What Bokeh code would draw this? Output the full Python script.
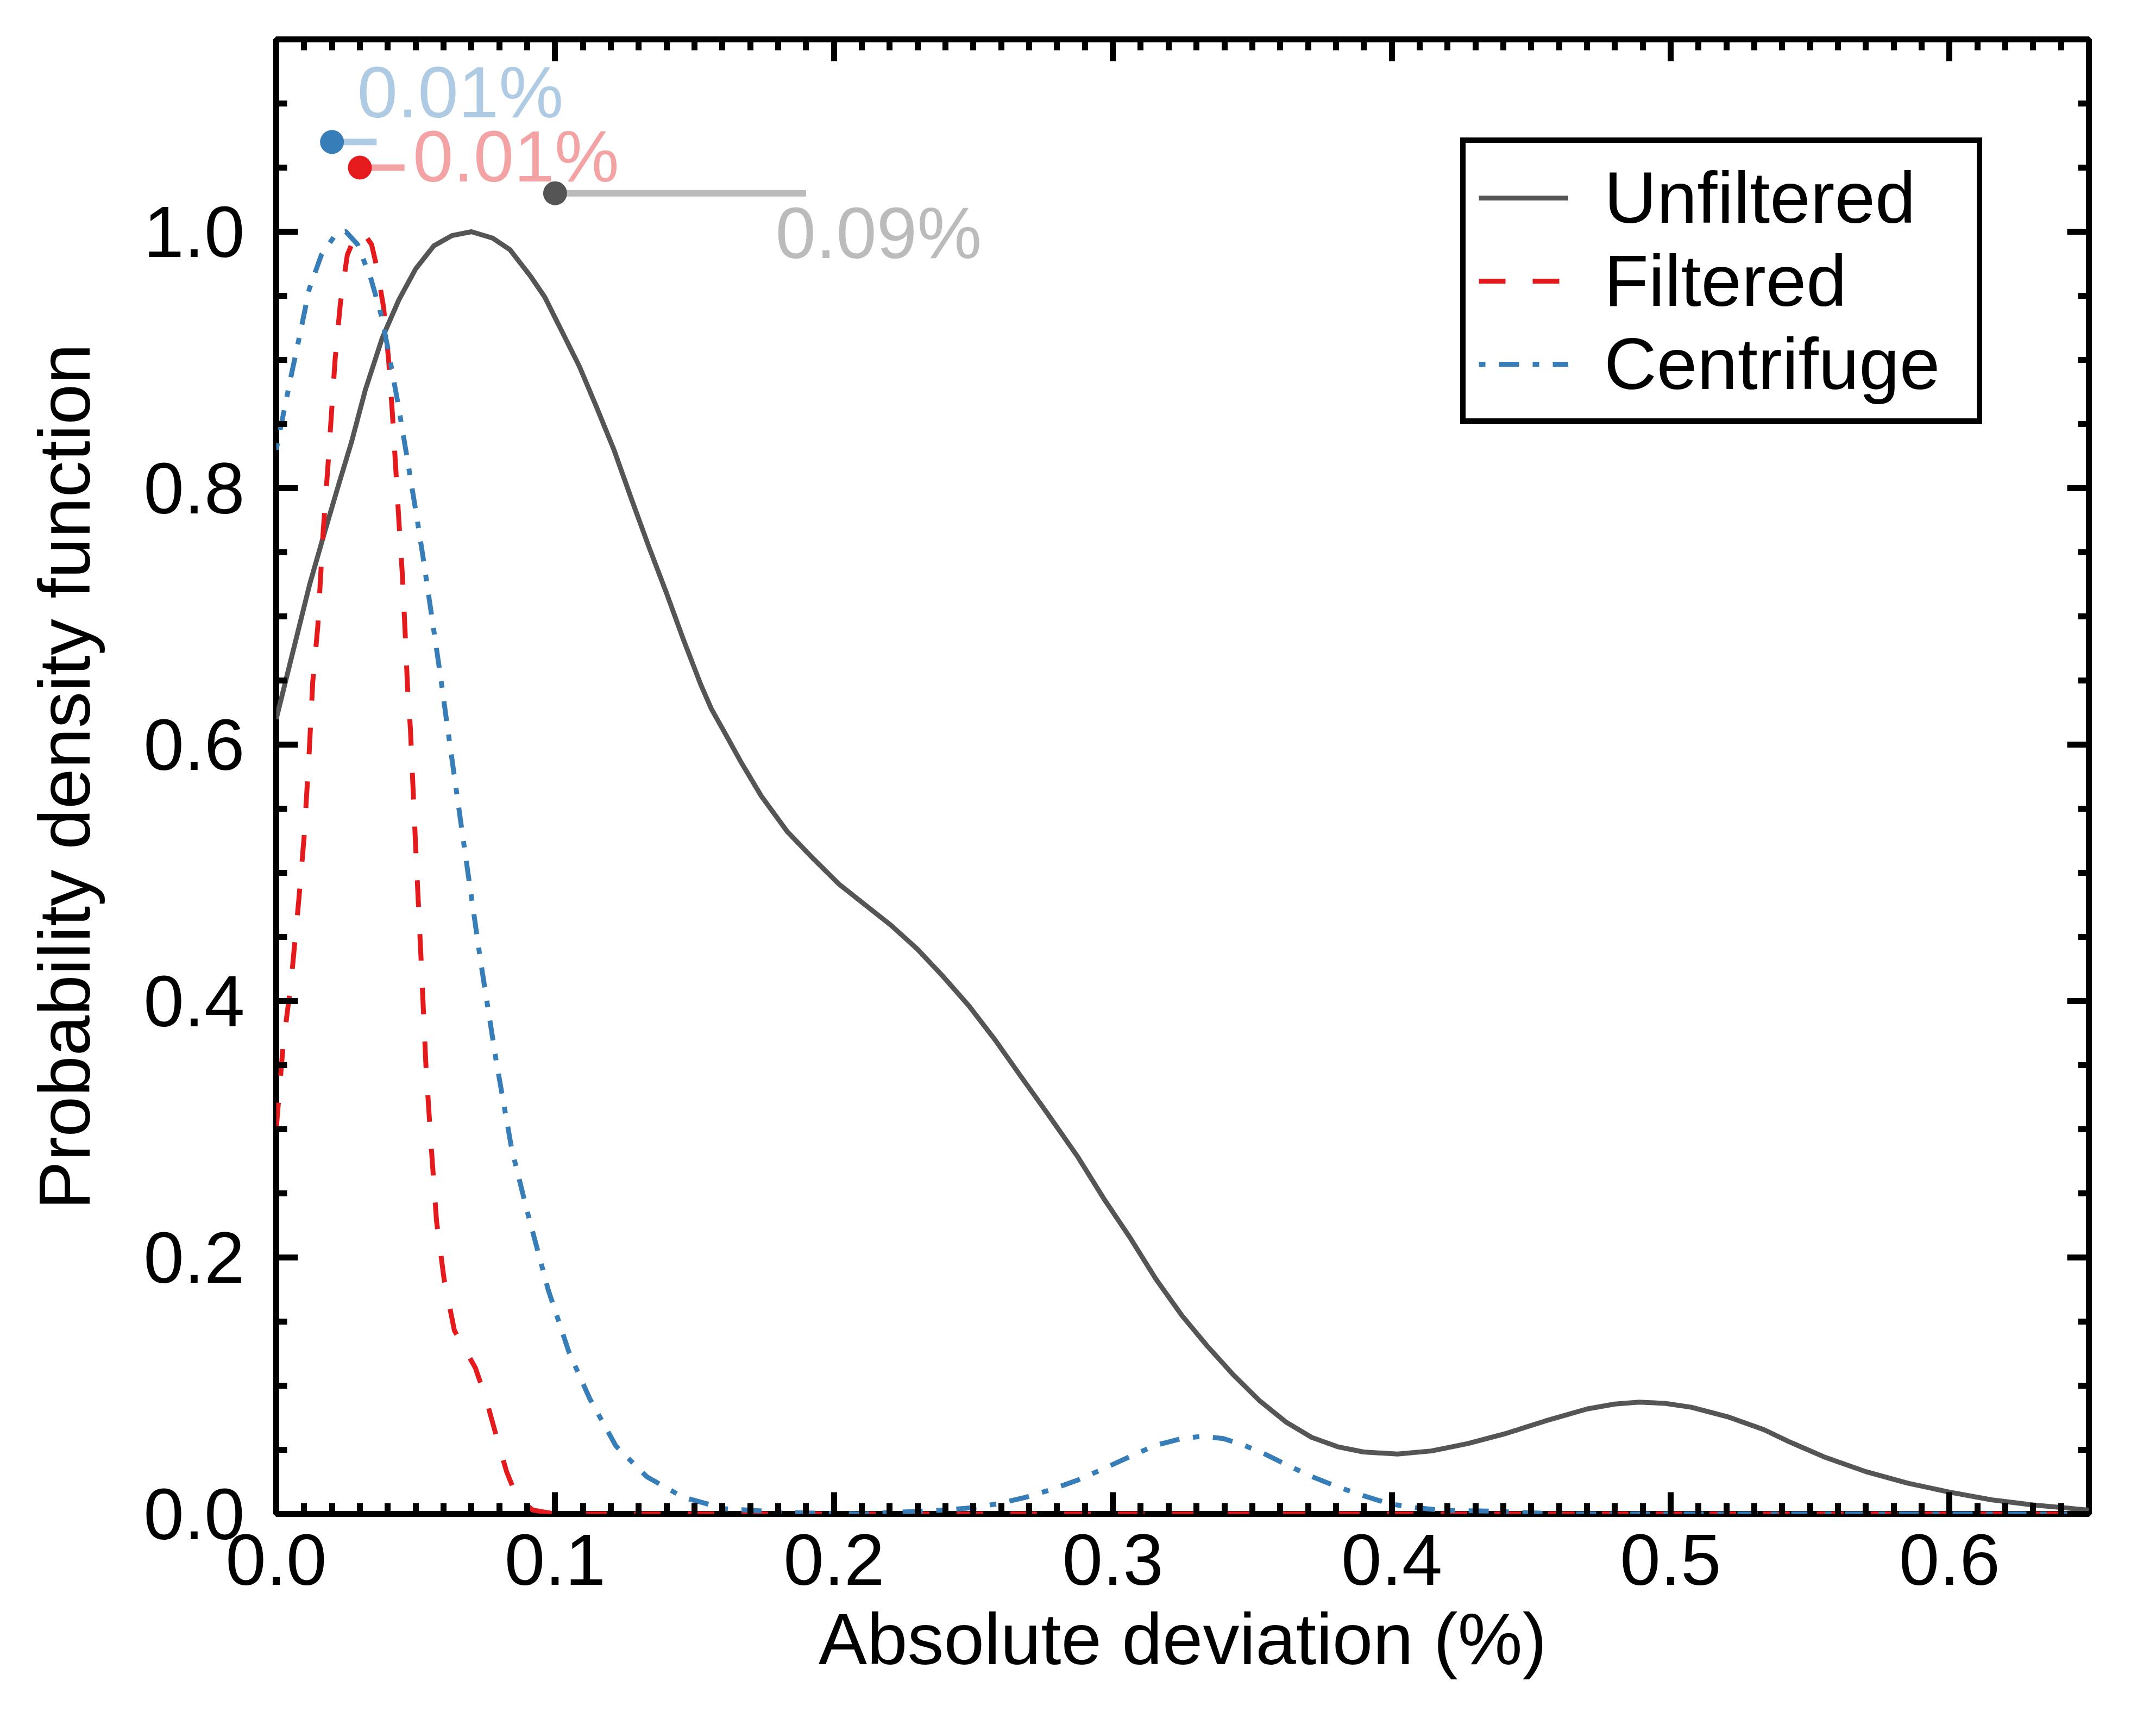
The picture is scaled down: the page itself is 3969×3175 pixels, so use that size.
from bokeh.plotting import figure
from bokeh.models import (LinearAxis, SingleIntervalTicker, PrintfTickFormatter,
                          CustomJSTickFormatter, Range1d, Legend, LegendItem)
from bokeh.core.properties import value
from bokeh.embed import file_html
from bokeh.resources import INLINE

# ---------------- data ----------------
unf_x = [0.000, 0.004, 0.008, 0.012, 0.017, 0.022, 0.027, 0.032, 0.038, 0.044,
         0.050, 0.0565, 0.063, 0.070, 0.0776, 0.0838, 0.0913, 0.0963, 0.1025, 0.1087,
         0.1149, 0.1211, 0.1273, 0.1335, 0.1398, 0.1460, 0.1522, 0.1560, 0.1609, 0.1665,
         0.1739, 0.1833, 0.1926, 0.2019, 0.2112, 0.2205, 0.2299, 0.2392, 0.2485, 0.2578,
         0.2671, 0.2764, 0.2874, 0.2967, 0.3061, 0.3154, 0.3247, 0.3340, 0.3433, 0.3527,
         0.3620, 0.3713, 0.3806, 0.3899, 0.4021, 0.4142, 0.4272, 0.4412, 0.4552, 0.4701,
         0.4800, 0.4887, 0.4980, 0.5074, 0.5204, 0.5335, 0.5424, 0.555, 0.570, 0.585,
         0.600, 0.615, 0.630, 0.650]
unf_y = [0.620, 0.655, 0.690, 0.725, 0.763, 0.800, 0.836, 0.877, 0.917, 0.947,
         0.971, 0.989, 0.997, 1.000, 0.995, 0.986, 0.965, 0.949, 0.922, 0.895,
         0.863, 0.830, 0.792, 0.755, 0.719, 0.682, 0.647, 0.628, 0.609, 0.587,
         0.560, 0.532, 0.511, 0.491, 0.475, 0.459, 0.4405, 0.419, 0.396, 0.3696,
         0.341, 0.3128, 0.2786, 0.2461, 0.2157, 0.1833, 0.1549, 0.1306, 0.1083, 0.0881,
         0.0718, 0.0597, 0.0524, 0.0483, 0.0467, 0.0491, 0.0548, 0.0629, 0.0726, 0.0819,
         0.0857, 0.0872, 0.0862, 0.0832, 0.0758, 0.0657, 0.0564, 0.0445, 0.033, 0.024,
         0.017, 0.011, 0.007, 0.003]

fil_x = [0.0000, 0.0025, 0.0053, 0.0081, 0.0100, 0.0118, 0.0131, 0.0149, 0.0168, 0.0186,
         0.0211, 0.0230, 0.0255, 0.0280, 0.0310, 0.0342, 0.0360, 0.0385, 0.0403, 0.0416,
         0.0429, 0.0440, 0.0453, 0.0463, 0.0471, 0.0481, 0.0500, 0.0518, 0.0537, 0.0555,
         0.0575, 0.0602, 0.0639, 0.0714, 0.0752, 0.0789, 0.0826, 0.0863, 0.0920, 0.1000,
         0.6500]
fil_y = [0.300, 0.366, 0.414, 0.479, 0.528, 0.593, 0.649, 0.692, 0.765, 0.819,
         0.900, 0.944, 0.982, 0.995, 1.000, 0.990, 0.973, 0.941, 0.900, 0.860,
         0.814, 0.774, 0.730, 0.684, 0.644, 0.613, 0.520, 0.439, 0.349, 0.289,
         0.228, 0.183, 0.143, 0.114, 0.090, 0.061, 0.033, 0.013, 0.003, 0.000,
         0.000]

cen_x = [0.0000, 0.0050, 0.0087, 0.0118, 0.0162, 0.0217, 0.0250, 0.0292, 0.0340, 0.0379,
         0.0403, 0.0435, 0.0466, 0.0503, 0.0528, 0.0559, 0.0590, 0.0610, 0.0677, 0.0733,
         0.0789, 0.0845, 0.0900, 0.0975, 0.1050, 0.1124, 0.1218, 0.1329, 0.1459, 0.1610,
         0.1840, 0.2100, 0.2390, 0.2501, 0.2595, 0.2688, 0.2781, 0.2874, 0.2967, 0.3061,
         0.3154, 0.3247, 0.3321, 0.3396, 0.3470, 0.3545, 0.3620, 0.3713, 0.3806, 0.3899,
         0.3993, 0.4086, 0.4180, 0.4366, 0.4600, 0.6500]
cen_y = [0.830, 0.884, 0.922, 0.955, 0.982, 0.999, 1.000, 0.990, 0.963, 0.933,
         0.906, 0.868, 0.828, 0.779, 0.744, 0.698, 0.652, 0.620, 0.516, 0.431,
         0.353, 0.284, 0.236, 0.175, 0.126, 0.090, 0.053, 0.029, 0.013, 0.004,
         0.001, 0.000, 0.003, 0.0049, 0.0082, 0.0130, 0.0191, 0.0264, 0.0353, 0.0447,
         0.0536, 0.0588, 0.0605, 0.0588, 0.0536, 0.0467, 0.0386, 0.0292, 0.0211, 0.0142,
         0.0078, 0.0049, 0.0029, 0.0021, 0.000, 0.000]

series_names = ["Unfiltered", "Filtered", "Centrifuge"]
series_colors = ["#555555", "#e41a1c", "#377eb8"]

# annotation markers: start value, height, width of the bar, label
ann_x = [0.10, 0.03, 0.02]
ann_y = [1.03, 1.05, 1.07]
ann_len = [0.09, 0.016, 0.016]
ann_text = ["0.09%", "0.01%", "0.01%"]
ann_text_x = [0.179, 0.049, 0.029]
ann_text_y = [0.999, 1.059, 1.109]

x_ticks_interval = 0.1
y_ticks_interval = 0.2

# ---------------- figure ----------------
FONT = "Liberation Sans"
FS = "134px"
LW = 11

p = figure(width=3953, height=3159, output_backend="svg", toolbar_location=None,
           x_range=Range1d(0, 0.65), y_range=Range1d(0, 1.15),
           min_border_left=508, min_border_right=108,
           min_border_top=72, min_border_bottom=373)
p.background_fill_color = "white"
p.border_fill_color = "white"
p.outline_line_color = "black"
p.outline_line_width = LW
p.xgrid.visible = False
p.ygrid.visible = False

xtick = SingleIntervalTicker(interval=x_ticks_interval, num_minor_ticks=10)
ytick = SingleIntervalTicker(interval=y_ticks_interval, num_minor_ticks=4)
fmt = PrintfTickFormatter(format="%.1f")
blank = CustomJSTickFormatter(code="return ''")

xa = p.below[0]
ya = p.left[0]
top_ax = LinearAxis(ticker=xtick, formatter=blank)
right_ax = LinearAxis(ticker=ytick, formatter=blank)
p.add_layout(top_ax, "above")
p.add_layout(right_ax, "right")

for ax in [xa, ya, top_ax, right_ax]:
    ax.axis_line_color = None
    ax.major_tick_line_color = "black"
    ax.major_tick_line_width = LW
    ax.major_tick_in = 40
    ax.major_tick_out = 0
    ax.minor_tick_line_color = "black"
    ax.minor_tick_line_width = LW
    ax.minor_tick_in = 20
    ax.minor_tick_out = 0
    ax.major_label_text_font = FONT
    ax.major_label_text_font_size = FS
    ax.major_label_text_color = "black"
    ax.axis_label_text_font = FONT
    ax.axis_label_text_font_size = FS
    ax.axis_label_text_font_style = "normal"
    ax.axis_label_text_color = "black"

for ax in [top_ax, right_ax]:
    ax.major_label_text_font_size = "1px"
    ax.major_label_standoff = 0

xa.ticker = xtick
xa.formatter = fmt
xa.major_label_standoff = 38
xa.axis_label = "Absolute deviation (%)"
xa.axis_label_standoff = 22

ya.ticker = ytick
ya.formatter = fmt
ya.major_label_standoff = 58
ya.axis_label = "Probability density function"
ya.axis_label_standoff = 68

# ---------------- curves ----------------
r_unf = p.line(unf_x, unf_y, line_color=series_colors[0], line_width=9,
               line_join="round")
r_fil = p.line(fil_x, fil_y, line_color=series_colors[1], line_width=9,
               line_dash="49 50", line_join="round")
r_cen = p.line(cen_x, cen_y, line_color=series_colors[2], line_width=9,
               line_dash="12 25 37 25", line_join="round")

# ---------------- annotations ----------------
ann_colors = series_colors
ann_x1 = [a + b for a, b in zip(ann_x, ann_len)]
p.segment(x0=ann_x, y0=ann_y, x1=ann_x1, y1=ann_y, line_color=ann_colors,
          line_alpha=0.4, line_width=12)
p.scatter(ann_x, ann_y, size=44, fill_color=ann_colors, line_color=None)
p.text(x=ann_text_x, y=ann_text_y, text=ann_text, text_color=ann_colors,
       text_alpha=0.4, text_font=value(FONT), text_font_size=value(FS),
       text_align="left", text_baseline="alphabetic")

# ---------------- legend ----------------
legend = Legend(items=[LegendItem(label=series_names[0], renderers=[r_unf]),
                       LegendItem(label=series_names[1], renderers=[r_fil]),
                       LegendItem(label=series_names[2], renderers=[r_cen])],
                location=(2180, 2006))
legend.label_text_font = FONT
legend.label_text_font_size = FS
legend.label_text_color = "black"
legend.glyph_width = 165
legend.glyph_height = 40
legend.label_standoff = 66
legend.label_width = 662
legend.padding = 24
legend.spacing = -2
legend.margin = 0
legend.border_line_color = "black"
legend.border_line_alpha = 1.0
legend.border_line_width = 10
legend.background_fill_color = "white"
legend.background_fill_alpha = 1.0
p.add_layout(legend)

open("out.html", "w").write(file_html(p, INLINE))
